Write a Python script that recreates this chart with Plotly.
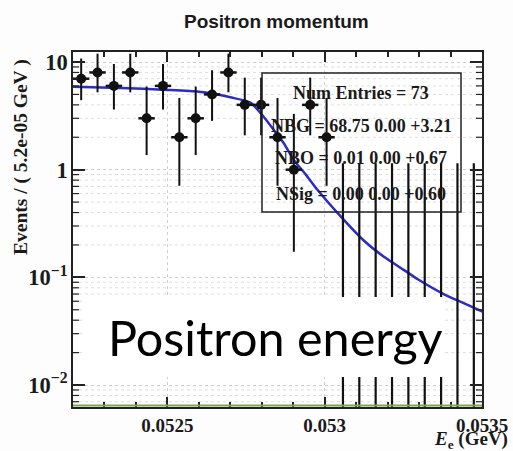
import math
import numpy as np
import plotly.graph_objects as go

# ---------------- data ----------------
x_lo = 0.0522
bin_w = 5.2e-05
counts = [7, 8, 6, 8, 3, 6, 2, 3, 5, 8, 4, 4, 2, 1, 4, 2, 0, 0, 0, 0, 0, 0, 0, 0, 0]
err_lo = [2.581, 2.768, 2.379, 2.768, 1.633, 2.379, 1.291, 1.633, 2.159, 2.768,
          1.914, 1.914, 1.291, 0.827, 1.914, 1.291, 0, 0, 0, 0, 0, 0, 0, 0, 0]
err_hi = [3.770, 3.945, 3.583, 3.945, 2.918, 3.583, 2.637, 2.918, 3.382, 3.945,
          3.162, 3.162, 2.637, 2.299, 3.162, 2.637,
          1.148, 1.148, 1.148, 1.148, 1.148, 1.148, 1.148, 1.148, 1.148]
zero_floor = 1e-4  # stand-in for y = 0 on the log axis

fit_x = [0.05220, 0.05235, 0.05250, 0.05260, 0.052643, 0.05270, 0.052764, 0.052806,
         0.05284, 0.052869, 0.052901, 0.05294, 0.052977, 0.05305, 0.053124, 0.053187,
         0.05325, 0.053296, 0.053378, 0.05344, 0.053503]
fit_y = [5.9, 5.75, 5.5, 5.3, 5.1, 4.7, 4.2, 3.1, 2.3, 1.78, 1.24, 0.9, 0.65, 0.37,
         0.22, 0.156, 0.118, 0.096, 0.070, 0.058, 0.048]

x_ticks = [0.0525, 0.053, 0.0535]
x_ticktext = ["0.0525", "0.053", "0.0535"]
y_minor_mult = [2, 3, 4, 5, 6, 7, 8, 9]
y_decades = [0.001, 0.01, 0.1, 1, 10]

stats_lines = ["Num Entries = 73", "NBG = 68.75 0.00 +3.21",
               "NBO = 0.01 0.00 +0.67", "NSig = 0.00 0.00 +0.60"]

x_range = [0.0522, 0.0535]
y_range = [-2.204, 1.093]

# ---------------- derived ----------------
centers = x_lo + bin_w * (np.arange(len(counts)) + 0.5)
nz = [i for i, c in enumerate(counts) if c > 0]
zz = [i for i, c in enumerate(counts) if c == 0]
y_minor = [m * d for d in y_decades for m in y_minor_mult
           if y_range[0] < math.log10(m * d) < y_range[1]]

serif = "Liberation Serif"
ink = "#1a1a1a"
fig = go.Figure()

# fit curve
fig.add_trace(go.Scatter(x=fit_x, y=fit_y, mode="lines", line_shape="spline",
                         line=dict(color="#2b2bc8", width=2.5, smoothing=0.6),
                         hoverinfo="skip"))

# zero-count bins: vertical error lines
zx, zy = [], []
for i in zz:
    zx += [centers[i], centers[i], None]
    zy += [zero_floor, counts[i] + err_hi[i], None]
fig.add_trace(go.Scatter(x=zx, y=zy, mode="lines", line=dict(color="#111", width=2.2),
                         hoverinfo="skip"))

# data points
fig.add_trace(go.Scatter(
    x=[centers[i] for i in nz], y=[counts[i] for i in nz], mode="markers",
    marker=dict(color="#111", size=10),
    error_y=dict(type="data", array=[err_hi[i] for i in nz],
                 arrayminus=[err_lo[i] for i in nz], color="#111", thickness=2, width=0),
    error_x=dict(type="data", array=[bin_w / 2] * len(nz), color="#111", thickness=2.5, width=0),
))

PLOT_W, PLOT_H = 409.0, 355.0

def px2x(px):
    return (px - 73) / PLOT_W

def px2y(py):
    return (407 - py) / PLOT_H

def yval2paper(v):
    return (math.log10(v) - y_range[0]) / (y_range[1] - y_range[0])

shapes = []
# minor grid lines + minor ticks on both sides of the log axis
tick_len = 6 / PLOT_W
for v in y_minor:
    yp = yval2paper(v)
    shapes.append(dict(type="line", xref="paper", yref="paper", x0=0, x1=1, y0=yp, y1=yp,
                       line=dict(color="#dedede", width=1, dash="dot"), layer="below"))
    shapes.append(dict(type="line", xref="paper", yref="paper", x0=0, x1=tick_len, y0=yp, y1=yp,
                       line=dict(color="#222", width=1.2), layer="above"))
    shapes.append(dict(type="line", xref="paper", yref="paper", x0=1 - tick_len, x1=1, y0=yp, y1=yp,
                       line=dict(color="#222", width=1.2), layer="above"))

shapes += [
    dict(type="line", xref="paper", yref="paper", x0=0, x1=1, y0=0.004, y1=0.004,
         line=dict(color="#7aa84a", width=2), layer="above"),
    dict(type="rect", xref="paper", yref="paper", x0=px2x(262), x1=px2x(461),
         y0=px2y(212), y1=px2y(73), line=dict(color="#222", width=1.5), layer="above"),
    dict(type="rect", xref="paper", yref="paper", x0=px2x(85), x1=px2x(445),
         y0=px2y(377), y1=px2y(297), fillcolor="white", line=dict(width=0), layer="above"),
]

annotations = []
for t, py in zip(stats_lines, [93, 126, 158, 194]):
    annotations.append(dict(text="<b>" + t + "</b>", xref="paper", yref="paper",
                            x=px2x(361), y=px2y(py), showarrow=False,
                            font=dict(family=serif, size=18, color=ink),
                            xanchor="center", yanchor="middle"))
annotations += [
    dict(text="<b>Positron momentum</b>", xref="paper", yref="paper", x=px2x(276), y=px2y(22),
         showarrow=False, font=dict(family="Liberation Sans", size=19, color=ink),
         xanchor="center", yanchor="middle"),
    dict(text="<b>Events / ( 5.2e-05 GeV )</b>", xref="paper", yref="paper",
         x=px2x(21), y=px2y(157), showarrow=False, textangle=-90,
         font=dict(family=serif, size=19.5, color=ink), xanchor="center", yanchor="middle"),
    dict(text="<b><i>E</i><sub>e</sub> (GeV)</b>", xref="paper", yref="paper",
         x=px2x(510), y=px2y(440), showarrow=False,
         font=dict(family=serif, size=19, color=ink), xanchor="right", yanchor="middle"),
    dict(text="Positron energy", xref="paper", yref="paper", x=px2x(106), y=px2y(337),
         showarrow=False, font=dict(family="Lato", size=48.5, color="black"),
         xanchor="left", yanchor="middle"),
]

fig.update_layout(
    width=513, height=451, margin=dict(l=73, r=31, t=52, b=44),
    paper_bgcolor="#fdfdfd", plot_bgcolor="white", showlegend=False,
    shapes=shapes, annotations=annotations,
    xaxis=dict(range=x_range, tickvals=x_ticks, ticktext=["<b>" + t + "</b>" for t in x_ticktext],
               automargin=False,
               ticks="inside", ticklen=10, tickwidth=1.5, tickcolor="#222",
               showline=True, linecolor="#222", linewidth=1.5, mirror="allticks",
               showgrid=True, gridcolor="#cfcfcf", griddash="dot", zeroline=False,
               tickfont=dict(family=serif, size=19, color=ink),
               minor=dict(dtick=0.0001, ticks="inside", ticklen=5, tickcolor="#222",
                          showgrid=False)),
    yaxis=dict(type="log", range=y_range, tickmode="linear", tick0=0, dtick=1,
               exponentformat="power", automargin=False,
               ticks="inside", ticklen=12, tickwidth=1.5, tickcolor="#222",
               showline=True, linecolor="#222", linewidth=1.5, mirror="allticks",
               showgrid=True, gridcolor="#cfcfcf", griddash="dot", zeroline=False,
               tickfont=dict(family=serif, size=18, color=ink, weight="bold")),
)

fig.write_html("out.html")
